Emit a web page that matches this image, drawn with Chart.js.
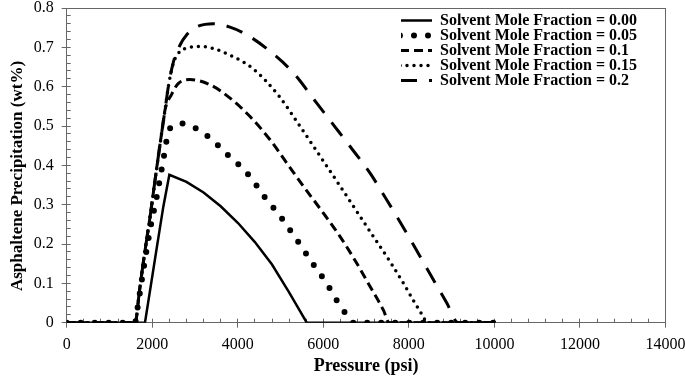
<!DOCTYPE html>
<html lang="en">
<head>
<meta charset="UTF-8">
<title>Asphaltene Precipitation vs Pressure</title>
<script src="https://cdn.jsdelivr.net/npm/chart.js"></script>
<style>
    body { margin: 0; background: #fff; }
    #wrap { width: 685px; height: 378px; }
</style>
</head>
<body>
<div id="wrap"><canvas id="precipChart" width="685" height="378"></canvas></div>
<script>
// series names
const seriesLabels = [
    'Solvent Mole Fraction = 0.00',
    'Solvent Mole Fraction = 0.05',
    'Solvent Mole Fraction = 0.1',
    'Solvent Mole Fraction = 0.15',
    'Solvent Mole Fraction = 0.2'
];

// pressure (psi) / precipitation (wt%)
const p000 = [0, 1830, 2105, 2259, 2400, 2800, 3200, 3600, 4000, 4400, 4800, 5200, 5613, 10000];
const w000 = [0, 0, 0.19, 0.295, 0.376, 0.358, 0.331, 0.296, 0.254, 0.205, 0.148, 0.077, 0, 0];

const p005 = [0, 1600, 1637, 1793, 1949, 2105, 2259, 2376, 2500, 2650, 3000, 3288, 3546, 3780, 4037, 4287, 4482, 4677, 4911, 5105, 5300, 5495, 5690, 5885, 6080, 6259, 6431, 6626, 6700, 10000];
const w005 = [0, 0, 0.024, 0.134, 0.236, 0.32, 0.414, 0.484, 0.5, 0.507, 0.495, 0.475, 0.45, 0.425, 0.4, 0.371, 0.342, 0.312, 0.282, 0.254, 0.223, 0.193, 0.16, 0.13, 0.1, 0.066, 0.037, 0.009, 0, 0];

const p010 = [0, 1600, 1700, 1800, 1950, 2100, 2221, 2299, 2450, 2600, 2884, 3351, 3819, 4287, 4755, 5145, 5534, 5924, 6392, 6782, 7093, 7405, 7540, 10000];
const w010 = [0, 0, 0.08, 0.16, 0.27, 0.39, 0.483, 0.541, 0.58, 0.607, 0.618, 0.605, 0.571, 0.524, 0.465, 0.406, 0.347, 0.29, 0.219, 0.151, 0.092, 0.032, 0, 0];

const p015 = [0, 1600, 1700, 1800, 1950, 2100, 2221, 2299, 2376, 2494, 2650, 2767, 3157, 3819, 4365, 4950, 5450, 5846, 6314, 6703, 7133, 7561, 7873, 8146, 8340, 8420, 10000];
const w015 = [0, 0, 0.08, 0.16, 0.27, 0.39, 0.483, 0.541, 0.6, 0.66, 0.69, 0.697, 0.702, 0.68, 0.645, 0.578, 0.5, 0.436, 0.36, 0.296, 0.225, 0.155, 0.1, 0.049, 0.015, 0, 0];

const p020 = [0, 1600, 1700, 1800, 1950, 2100, 2221, 2299, 2376, 2500, 2650, 2806, 3000, 3429, 3800, 4209, 4754, 5300, 5846, 6236, 6626, 7093, 7484, 7756, 8106, 8496, 8887, 9150, 10000];
const w020 = [0, 0, 0.08, 0.16, 0.27, 0.39, 0.483, 0.541, 0.6, 0.665, 0.706, 0.732, 0.75, 0.76, 0.752, 0.732, 0.69, 0.635, 0.558, 0.503, 0.448, 0.38, 0.312, 0.263, 0.198, 0.124, 0.05, 0, 0];

// axis ranges
const xMax = 14000, xStep = 2000, xMinorStep = 400;
const yMax = 0.8, yStep = 0.1, yMinorStep = 0.02;

function toPoints(px, wy) {
    return px.map((p, i) => ({ x: p, y: wy[i] }));
}

const serif = "'Liberation Serif', 'Times New Roman', serif";
const axisGray = '#666';

// place the legend in the upper right of the plot
const legendSpot = {
    id: 'legendSpot',
    afterLayout(chart) {
        chart.legend.left = 401;
        chart.legend.top = 13.5;
    }
};

const ctx = document.getElementById('precipChart').getContext('2d');
new Chart(ctx, {
    type: 'line',
    data: {
        datasets: [
            { label: seriesLabels[0], data: toPoints(p000, w000), borderWidth: 2.5, borderDash: [], borderCapStyle: 'butt' },
            { label: seriesLabels[1], data: toPoints(p005, w005), borderWidth: 6, borderDash: [0, 14], borderCapStyle: 'round', cubicInterpolationMode: 'monotone' },
            { label: seriesLabels[2], data: toPoints(p010, w010), borderWidth: 3, borderDash: [9, 5], borderCapStyle: 'butt', cubicInterpolationMode: 'monotone' },
            { label: seriesLabels[3], data: toPoints(p015, w015), borderWidth: 3.5, borderDash: [0, 7], borderCapStyle: 'round', cubicInterpolationMode: 'monotone' },
            { label: seriesLabels[4], data: toPoints(p020, w020), borderWidth: 3, borderDash: [17, 12], borderCapStyle: 'butt', cubicInterpolationMode: 'monotone' }
        ].map(ds => Object.assign(ds, {
            borderColor: '#000',
            backgroundColor: '#000',
            pointRadius: 0,
            tension: 0,
            fill: false
        }))
    },
    options: {
        responsive: false,
        animation: false,
        layout: { padding: 0 },
        plugins: {
            tooltip: { enabled: false },
            legend: {
                position: 'chartArea',
                align: 'start',
                labels: {
                    usePointStyle: true,
                    pointStyleWidth: 32,
                    boxWidth: 32,
                    padding: -1,
                    color: '#000',
                    font: { family: serif, size: 16, weight: 'bold' },
                    generateLabels: chart => chart.data.datasets.map((ds, i) => ({
                        text: ds.label,
                        datasetIndex: i,
                        strokeStyle: ds.borderColor,
                        fillStyle: ds.borderColor,
                        fontColor: '#000',
                        lineWidth: ds.borderWidth,
                        lineDash: ds.borderDash,
                        lineCap: ds.borderCapStyle,
                        pointStyle: 'line',
                        hidden: false
                    }))
                }
            }
        },
        scales: {
            x: {
                type: 'linear',
                position: 'bottom',
                weight: 1,
                min: 0,
                max: xMax,
                ticks: {
                    stepSize: xStep,
                    autoSkip: false,
                    maxRotation: 0,
                    padding: 7,
                    color: '#000',
                    font: { family: serif, size: 16 },
                    callback: v => String(v)
                },
                grid: { drawOnChartArea: false, tickLength: 5, tickColor: axisGray },
                border: { color: axisGray, width: 1 },
                title: {
                    display: true,
                    text: 'Pressure (psi)',
                    color: '#000',
                    font: { family: serif, size: 18, weight: 'bold' },
                    padding: { top: 0, bottom: 1 }
                },
                afterFit: s => { s.height = 55.3; s.paddingRight = 19.5; }
            },
            xMinor: {
                type: 'linear',
                position: 'bottom',
                weight: 0,
                min: 0,
                max: xMax,
                ticks: { stepSize: xMinorStep, display: false },
                grid: { drawOnChartArea: false, tickLength: -4, tickColor: axisGray },
                border: { display: false },
                afterFit: s => { s.height = 0; }
            },
            xTop: {
                type: 'linear',
                position: 'top',
                min: 0,
                max: xMax,
                ticks: { display: false },
                grid: { display: false },
                border: { display: true, color: axisGray, width: 1 },
                afterFit: s => { s.height = 0; }
            },
            y: {
                type: 'linear',
                position: 'left',
                weight: 1,
                min: 0,
                max: yMax,
                ticks: {
                    stepSize: yStep,
                    autoSkip: false,
                    padding: 8,
                    color: '#000',
                    font: { family: serif, size: 16 },
                    callback: v => String(Math.round(v * 10) / 10)
                },
                grid: { drawOnChartArea: false, tickLength: 5, tickColor: axisGray },
                border: { color: axisGray, width: 1 },
                title: {
                    display: true,
                    // trailing no-break spaces nudge the title down like the original
                    text: 'Asphaltene Precipitation (wt%)\u00A0\u00A0\u00A0\u00A0\u00A0',
                    color: '#000',
                    font: { family: serif, size: 17, weight: 'bold' },
                    padding: { top: 7, bottom: 0 }
                },
                afterFit: s => { s.width = 66.7; s.paddingTop = 8; s.paddingBottom = 8; }
            },
            yMinor: {
                type: 'linear',
                position: 'left',
                weight: 0,
                min: 0,
                max: yMax,
                ticks: { stepSize: yMinorStep, display: false },
                grid: { drawOnChartArea: false, tickLength: -4, tickColor: axisGray },
                border: { display: false },
                afterFit: s => { s.width = 0; }
            },
            yRight: {
                type: 'linear',
                position: 'right',
                min: 0,
                max: yMax,
                ticks: { display: false },
                grid: { display: false },
                border: { display: true, color: axisGray, width: 1 },
                afterFit: s => { s.width = 0; }
            }
        }
    },
    plugins: [legendSpot]
});
</script>
</body>
</html>
